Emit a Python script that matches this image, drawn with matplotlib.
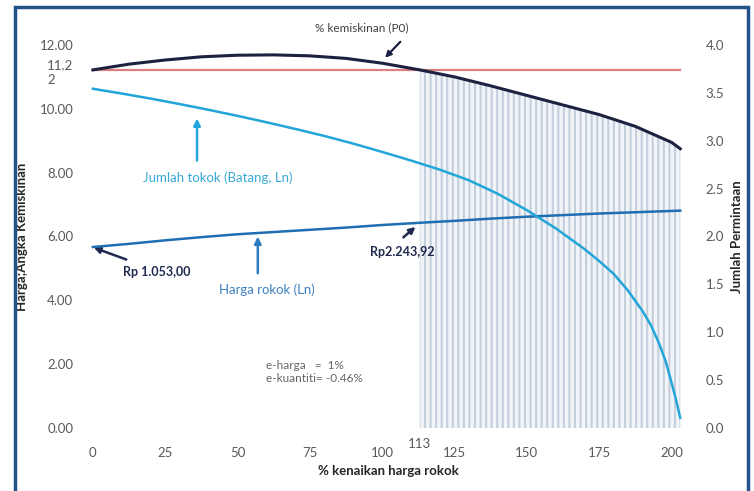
import matplotlib
matplotlib.use("Agg")
from matplotlib import pyplot as plt
from matplotlib.patches import Rectangle
import matplotlib.transforms as mtrans
import numpy as np

plt.rcParams['font.family'] = ['Lato', 'DejaVu Sans']
plt.rcParams['hatch.linewidth'] = 1.5

# % kenaikan harga rokok
x = [0, 12.5, 25, 37.5, 50, 62.5, 75, 87.5, 100, 113, 125, 137.5, 150, 162.5, 175, 187.5, 200, 203]
# % kemiskinan (P0)
p0 = [11.22, 11.40, 11.53, 11.63, 11.68, 11.69, 11.66, 11.58, 11.43, 11.22,
      11.00, 10.72, 10.42, 10.12, 9.82, 9.45, 8.95, 8.75]
# harga rokok (Ln)
harga = [5.67, 5.77, 5.88, 5.98, 6.07, 6.14, 6.21, 6.28, 6.36, 6.43,
         6.49, 6.56, 6.62, 6.67, 6.72, 6.76, 6.80, 6.81]
# jumlah rokok (Batang, Ln) - right axis
xq = [0, 10, 20, 30, 40, 50, 60, 70, 80, 90, 100, 110, 120, 130, 140, 150, 160,
      170, 175, 180, 185, 190, 193, 196, 198, 200, 201.5, 203]
jumlah = [3.543, 3.493, 3.440, 3.383, 3.323, 3.260, 3.193, 3.123, 3.050, 2.970,
          2.883, 2.793, 2.697, 2.587, 2.445, 2.275, 2.085, 1.867, 1.743, 1.610,
          1.433, 1.220, 1.067, 0.860, 0.693, 0.473, 0.300, 0.107]
p0_awal = 11.22
x_batas = 113

left_ticks = [0, 2, 4, 6, 8, 10, 11.22, 12]
left_labels = ["0.00", "2.00", "4.00", "6.00", "8.00", "10.00", "11.2\n2", "12.00"]
right_ticks = [0, 0.5, 1.0, 1.5, 2.0, 2.5, 3.0, 3.5, 4.0]
x_ticks = [0, 25, 50, 75, 100, 125, 150, 175, 200]

fig = plt.figure(figsize=(7.54, 4.91), dpi=100)
ax = fig.add_axes([90/754, 1-428/491, (686-90)/754, (428-45)/491])
ax2 = ax.twinx()

# shaded region (vertical stripes)
xs = np.array(x)
m = xs >= x_batas
ax.fill_between(xs[m], 0, np.array(p0)[m], facecolor='#f1f4f8', edgecolor='#c4cfdc',
                hatch='|||', linewidth=0, zorder=1)

ax.axhline(0, color='#e4e4e4', lw=0.8, zorder=0)
ax.plot([x[0], x[-1]], [p0_awal, p0_awal], color='#dc7f80', lw=1.6, zorder=3)
ax.plot(x, p0, color='#1c2140', lw=2.2, zorder=4)
ax.plot(x, harga, color='#1f6db3', lw=1.8, zorder=4)
ax2.plot(xq, jumlah, color='#22a5d8', lw=1.8, zorder=4)

ax.set_xlim(-1, 205)
ax.set_ylim(0, 12)
ax2.set_ylim(0, 4)

ax.set_xticks(x_ticks)
ax.set_yticks(left_ticks)
ax.set_yticklabels(left_labels, multialignment='left')
ax2.set_yticks(right_ticks)
ax2.set_yticklabels(["%.1f" % v for v in right_ticks])

for a in (ax, ax2):
    for s in a.spines.values():
        s.set_visible(False)
    a.tick_params(length=0, labelsize=9.5, labelcolor='#595959')
ax.tick_params(axis='y', pad=12)
ax.tick_params(axis='x', pad=14)
ax2.tick_params(axis='y', pad=14)

# shift the wrapped 11.22 label so its first line sits on the tick
for lbl in ax.get_yticklabels():
    if "\n" in lbl.get_text():
        lbl.set_verticalalignment('top')
        lbl.set_transform(lbl.get_transform() + mtrans.ScaledTranslation(0, 7/72, fig.dpi_scale_trans))

ax.text(x_batas, -0.3, "113", ha='center', va='top', fontsize=9.5, color='#595959')

ax.set_xlabel("% kenaikan harga rokok", fontsize=9.5, fontweight='bold', color='#262626', labelpad=4)
ax.set_ylabel("Harga;Angka Kemiskinan", fontsize=9.5, fontweight='bold', color='#262626', labelpad=8)
ax2.set_ylabel("Jumlah Permintaan", fontsize=9.5, fontweight='bold', color='#262626', labelpad=5)

# annotations
ax.annotate("% kemiskinan (P0)", xy=(101, 11.6), xytext=(93, 12.55), fontsize=8.5,
            color='#404040', ha='center', va='center', annotation_clip=False,
            arrowprops=dict(arrowstyle='-|>', color='#1c2140', lw=1.6, shrinkA=6, shrinkB=0,
                            relpos=(1.0, 0.0)))
ax.annotate("", xy=(36, 9.7), xytext=(36, 8.38),
            arrowprops=dict(arrowstyle='-|>', color='#22a5d8', lw=1.8, shrinkA=0, shrinkB=0))
ax.text(43, 7.85, "Jumlah tokok (Batang, Ln)", fontsize=9.5, color='#3aa8d6', ha='center', va='center')
ax.annotate("", xy=(57, 6.0), xytext=(57, 4.85),
            arrowprops=dict(arrowstyle='-|>', color='#2f7bbf', lw=1.8, shrinkA=0, shrinkB=0))
ax.text(60, 4.32, "Harga rokok (Ln)", fontsize=9.5, color='#3d80c0', ha='center', va='center')
ax.annotate("Rp 1.053,00", xy=(0.3, 5.65), xytext=(22, 4.9), fontsize=9, fontweight='bold',
            color='#1f2a4e', ha='center', va='center',
            arrowprops=dict(arrowstyle='-|>', color='#1f2a4e', lw=1.8, shrinkA=7, shrinkB=0,
                            relpos=(0.3, 1.0)))
ax.annotate("Rp2.243,92", xy=(111.5, 6.3), xytext=(107, 5.5), fontsize=9, fontweight='bold',
            color='#1f2a4e', ha='center', va='center',
            arrowprops=dict(arrowstyle='-|>', color='#1f2a4e', lw=1.8, shrinkA=7, shrinkB=0,
                            relpos=(0.35, 1.0)))
ax.text(60, 1.75, "e-harga   =  1%\ne-kuantiti= -0.46%", fontsize=8.5, color='#666666',
        ha='left', va='center', linespacing=1.3)

# dark blue frame
fig.patches.append(Rectangle((15/754, -0.05), (748-15)/754, 1-7/491+0.05,
                             transform=fig.transFigure, fill=False,
                             edgecolor='#23528a', lw=2.5, zorder=10))

fig.savefig("out.png", dpi=100)
